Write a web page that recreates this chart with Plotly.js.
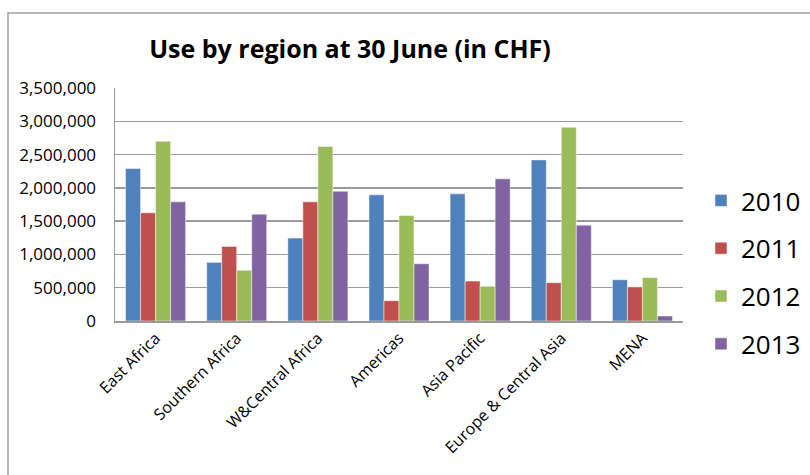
<!DOCTYPE html>
<html>
<head>
<meta charset="utf-8">
<script src="https://cdn.plot.ly/plotly-3.0.1.min.js"></script>
<style>
  html, body { margin: 0; padding: 0; background: #ffffff; }
  #chart { width: 810px; height: 475px; }
</style>
</head>
<body>
<div id="chart"></div>
<script>
const regions = ["East Africa", "Southern Africa", "W&Central Africa", "Americas", "Asia Pacific", "Europe & Central Asia", "MENA"];
const years = ["2010", "2011", "2012", "2013"];
const values2010 = [2290000, 880000, 1245000, 1895000, 1910000, 2420000, 620000];
const values2011 = [1625000, 1120000, 1790000, 305000, 600000, 575000, 512000];
const values2012 = [2700000, 762000, 2622000, 1585000, 522000, 2910000, 652000];
const values2013 = [1790000, 1605000, 1950000, 860000, 2135000, 1440000, 75000];
const seriesValues = [values2010, values2011, values2012, values2013];
const colors = ["#4F81BD", "#C0504D", "#9BBB59", "#8064A2"];
const yTicks = [0, 500000, 1000000, 1500000, 2000000, 2500000, 3000000, 3500000];
const yTickLabels = ["0", "500,000", "1,000,000", "1,500,000", "2,000,000", "2,500,000", "3,000,000", "3,500,000"];

const FONT = "'Open Sans', 'Noto Sans', sans-serif";

const traces = years.map((yr, i) => ({
  type: "bar",
  name: yr,
  x: regions,
  y: seriesValues[i],
  legendgroup: yr,
  marker: { color: colors[i], line: { color: "rgba(255,255,255,0.6)", width: 0.8 } },
  hoverinfo: "x+y+name"
}));

const L = 115, R = 683, T = 88, B = 321, W = 810, H = 475;
const pw = R - L, ph = B - T;
const px = v => (v - L) / pw;
const py = v => (B - v) / ph;

const layout = {
  width: W,
  height: H,
  margin: { l: L, r: W - R, t: T, b: H - B, pad: 0, autoexpand: false },
  paper_bgcolor: "#ffffff",
  plot_bgcolor: "#ffffff",
  font: { family: FONT, color: "#000000" },
  bargap: 0.26,
  bargroupgap: 0,
  barmode: "group",
  title: {
    text: "<b>Use by region at 30 June (in CHF)</b>",
    font: { family: FONT, size: 25, color: "#000000" },
    x: 350 / W, xref: "container", xanchor: "center",
    y: 1 - 49 / H, yref: "container", yanchor: "middle"
  },
  xaxis: {
    type: "category",
    tickangle: -45,
    tickfont: { family: FONT, size: 16, color: "#000000" },
    showgrid: false,
    showline: true,
    linecolor: "#9a9a9a",
    linewidth: 1.5,
    ticks: "",
    zeroline: false,
    automargin: false
  },
  yaxis: {
    range: [0, 3500000],
    tickvals: yTicks,
    ticktext: yTickLabels,
    tickfont: { family: FONT, size: 17, color: "#000000" },
    showgrid: true,
    gridcolor: "#9a9a9a",
    gridwidth: 1.5,
    showline: true,
    linecolor: "#9a9a9a",
    linewidth: 1.5,
    ticks: "",
    ticklabelstandoff: 14,
    zeroline: false,
    automargin: false
  },
  legend: {
    x: px(701), xanchor: "left",
    y: py(177), yanchor: "top",
    font: { family: FONT, size: 26, color: "#000000" },
    traceorder: "grouped",
    tracegroupgap: 11,
    bgcolor: "rgba(0,0,0,0)",
    borderwidth: 0
  },
  shapes: [
    {
      type: "path", xref: "paper", yref: "paper",
      path: "M " + px(8) + "," + py(480) + " L " + px(8) + "," + py(13) + " L " + px(815) + "," + py(13),
      line: { color: "#a0a0a0", width: 1.5 }
    }
  ],
  showlegend: true
};

Plotly.newPlot("chart", traces, layout, { displayModeBar: false, staticPlot: true });
</script>
</body>
</html>
